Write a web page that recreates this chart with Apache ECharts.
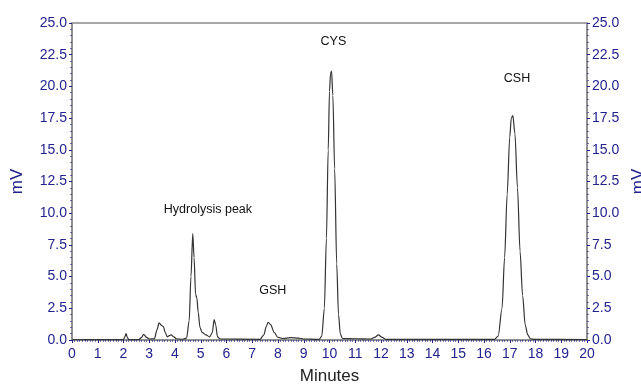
<!DOCTYPE html>
<html>
<head>
<meta charset="utf-8">
<script src="https://cdn.jsdelivr.net/npm/echarts@6/dist/echarts.min.js"></script>
<style>
  html, body { margin: 0; padding: 0; background: #fff; }
  #chart { width: 641px; height: 385px; }
</style>
</head>
<body>
<div id="chart"></div>
<script>
// retention time (min) and detector signal (mV)
const times = [0, 1.0, 2.0, 2.05, 2.1, 2.15, 2.2, 2.6, 2.7, 2.78, 2.9, 3.0, 3.2, 3.3, 3.38, 3.48, 3.55, 3.62, 3.7, 3.78, 3.85, 3.95, 4.05, 4.3, 4.45, 4.55, 4.62, 4.69, 4.74, 4.8, 4.85, 4.9, 4.97, 5.05, 5.2, 5.35, 5.45, 5.52, 5.58, 5.65, 5.75, 7.3, 7.45, 7.55, 7.62, 7.72, 7.85, 8.0, 8.2, 8.5, 8.8, 9.0, 9.6, 9.7, 9.8, 9.88, 9.95, 10.0, 10.04, 10.08, 10.13, 10.2, 10.28, 10.35, 10.42, 10.5, 11.0, 11.6, 11.75, 11.9, 12.05, 12.2, 16.4, 16.55, 16.7, 16.8, 16.9, 17.0, 17.06, 17.12, 17.2, 17.3, 17.4, 17.5, 17.6, 17.7, 17.8, 18.0, 20];
const mv = [0.02, 0.03, 0.03, 0.25, 0.5, 0.2, 0.03, 0.04, 0.2, 0.45, 0.2, 0.08, 0.1, 0.8, 1.35, 1.15, 1.05, 0.6, 0.25, 0.35, 0.4, 0.25, 0.1, 0.06, 0.15, 1.5, 5.0, 8.4, 6.5, 3.6, 3.3, 2.2, 1.0, 0.6, 0.4, 0.25, 0.6, 1.6, 1.2, 0.25, 0.08, 0.05, 0.4, 1.1, 1.4, 1.2, 0.6, 0.2, 0.12, 0.18, 0.15, 0.08, 0.05, 0.3, 2.5, 8, 15, 19.6, 21.0, 21.2, 19.3, 13.5, 6, 2, 0.5, 0.12, 0.1, 0.08, 0.2, 0.4, 0.2, 0.05, 0.05, 0.3, 2.5, 6.5, 11.5, 16, 17.5, 17.7, 16.3, 12, 7, 3.5, 1.2, 0.4, 0.1, 0.05, 0.03];

// peak annotations (text position in data units)
const peakNames = ['Hydrolysis peak', 'GSH', 'CYS', 'CSH'];
const peakX = [5.28, 7.8, 10.15, 17.28];
const peakY = [10.25, 3.9, 23.5, 20.6];

const blue = '#23238f';
const gray = '#8a8a8a';
const font = 'Arial, "Liberation Sans", sans-serif';

const chart = echarts.init(document.getElementById('chart'), null, { renderer: 'canvas' });

const yAxisBase = {
  type: 'value',
  min: 0,
  max: 25,
  interval: 2.5,
  name: 'mV',
  nameLocation: 'middle',
  nameRotate: 90,
  nameTextStyle: { color: blue, fontSize: 17, fontFamily: font },
  axisLine: { show: true, lineStyle: { color: gray, width: 1.5 } },
  axisTick: { show: true, inside: false, length: 3, lineStyle: { color: blue } },
  minorTick: { show: true, splitNumber: 5, length: 2, lineStyle: { color: blue, opacity: 0.6 } },
  splitLine: { show: false },
  axisLabel: {
    color: blue,
    fontSize: 14,
    fontFamily: font,
    margin: 5,
    formatter: (v) => v.toFixed(1)
  }
};

const option = {
  animation: false,
  grid: {
    left: 72,
    right: 54,
    top: 23,
    bottom: 45,
    outerBoundsMode: 'none',
    containLabel: false,
    show: true,
    borderColor: gray,
    borderWidth: 1.5
  },
  xAxis: {
    type: 'value',
    min: 0,
    max: 20,
    interval: 1,
    name: 'Minutes',
    nameLocation: 'middle',
    nameGap: 28,
    nameTextStyle: { color: '#222', fontSize: 17, fontFamily: font },
    axisLine: { show: true, lineStyle: { color: gray, width: 1.5 } },
    axisTick: { show: true, length: 3, lineStyle: { color: blue } },
    minorTick: { show: true, splitNumber: 10, length: 2, lineStyle: { color: blue, opacity: 0.6 } },
    splitLine: { show: false },
    axisLabel: { color: blue, fontSize: 14, fontFamily: font, margin: 7 }
  },
  yAxis: [
    Object.assign({}, yAxisBase, { position: 'left', nameGap: 46 }),
    Object.assign({}, yAxisBase, { position: 'right', nameGap: 41 })
  ],
  series: [
    {
      type: 'line',
      data: times.map((t, i) => [t, mv[i]]),
      showSymbol: false,
      smooth: 0.3,
      smoothMonotone: 'x',
      lineStyle: { color: '#333', width: 1.2 },
      markPoint: {
        symbol: 'circle',
        symbolSize: 1,
        itemStyle: { color: 'rgba(0,0,0,0)' },
        label: {
          show: true,
          position: 'inside',
          color: '#111',
          fontSize: 12.5,
          fontFamily: font,
          formatter: (p) => p.name
        },
        data: peakNames.map((n, i) => ({ name: n, coord: [peakX[i], peakY[i]] }))
      }
    }
  ]
};

chart.setOption(option);
</script>
</body>
</html>
